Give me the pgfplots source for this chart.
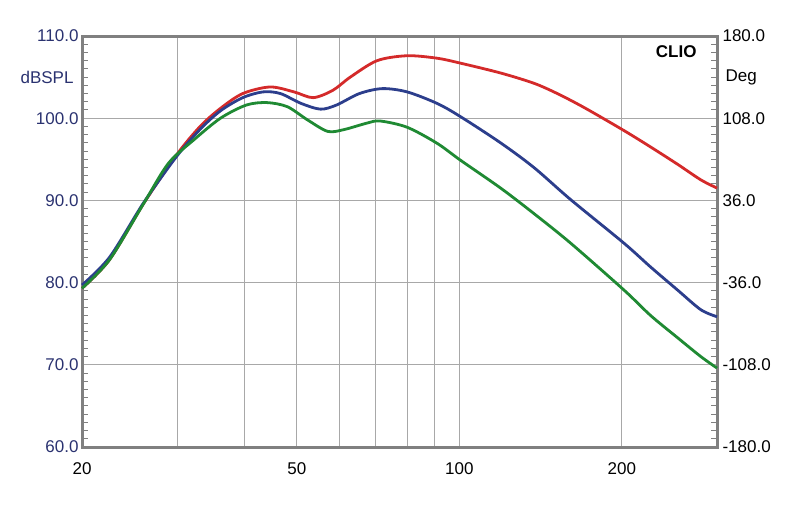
\documentclass[border=0pt]{standalone}
\usepackage{pgfplots}
\pgfplotsset{compat=1.18}
\usepackage{fontspec}
\setmainfont{Liberation Sans}
\definecolor{navy}{HTML}{2A3270}
\definecolor{cred}{HTML}{D42A2A}
\definecolor{cblue}{HTML}{2C3E8C}
\definecolor{cgreen}{HTML}{1F8A33}
\definecolor{gridc}{HTML}{A8A8A8}
\definecolor{framec}{HTML}{808080}

\begin{document}
\begin{tikzpicture}
\begin{axis}[name=ax,
  scale only axis, width=635pt, height=411pt,
  xmode=log, xmin=20, xmax=300, ymin=60, ymax=110,
  log basis x=10,
  xtick={20,50,100,200}, xticklabels={20,50,100,200},
  minor xtick={30,40,60,70,80,90,300},
  ytick={60,70,80,90,100,110},
  yticklabels={60.0,70.0,80.0,90.0,100.0,110.0},
  minor y tick num=9,
  ytick pos=both, xtick pos=bottom,
  tick align=inside,
  major tick length=0pt, minor tick length=6pt,
  minor y tick style={draw=framec, line width=1pt},
  minor x tick style={draw=none},
  grid=both,
  major grid style={gridc, line width=1pt},
  minor grid style={gridc, line width=1pt},
  minor y grid style={draw=none},
  axis line style={framec, line width=3pt},
  tick label style={font=\fontsize{17}{19}\selectfont},
  yticklabel style={text=navy},
  xticklabel style={yshift=-12pt},
  clip=false,
]
\addplot[cred, line width=2.8pt, smooth] coordinates {
(20,79.3) (22.5,82.8) (26,89.6) (29.9,95.5) (33.1,99.0) (36.1,101.2) (39.7,103.0)
(44.6,103.8) (49.4,103.2) (53.6,102.5) (58.3,103.4) (62.8,105.0) (70.4,107.0)
(80,107.6) (90.9,107.3) (100.4,106.7) (119.2,105.5) (137.4,104.25) (151.8,103.0)
(170.2,101.3) (201.7,98.5) (226,96.5) (253.5,94.4) (280,92.5) (300,91.5)
};
\addplot[cblue, line width=2.8pt, smooth] coordinates {
(20,79.7) (22.5,83.1) (26,89.7) (29.9,95.3) (33.1,98.65) (36.1,100.9) (39.7,102.5)
(43.3,103.2) (46.6,103.0) (50.9,101.8) (55.3,101.1) (59.2,101.6) (65.3,103.0)
(72,103.6) (80,103.2) (90.9,101.8) (100.4,100.2) (119.2,97.0) (137.4,94.0)
(160.7,90.1) (201.7,84.8) (226,81.9) (253.5,79.1) (280,76.7) (300,75.85)
};
\addplot[cgreen, line width=2.8pt, smooth] coordinates {
(20,79.3) (22.5,82.8) (26,89.6) (28.9,94.5) (32.2,97.35) (36.1,100.0) (40.3,101.6)
(44,101.9) (48,101.4) (52.3,99.8) (57,98.4) (61,98.6) (67.4,99.4) (71.3,99.66)
(80,98.9) (90.9,96.95) (100.4,94.9) (119.2,91.5) (137.4,88.4) (160.7,84.8)
(201.7,79.1) (226,76.0) (253.5,73.3) (280,71.0) (300,69.6)
};
\node[anchor=east, text=navy, font=\fontsize{17}{19}\selectfont, xshift=-5pt]
  at (axis cs:20,105) {dBSPL};
\node[anchor=west, font=\fontsize{17}{19}\selectfont, xshift=5pt]
  at (axis cs:300,105) {Deg};
\node[anchor=east, font=\bfseries\fontsize{17}{19}\selectfont, xshift=-17pt, yshift=-16pt]
  at (rel axis cs:1,1) {CLIO};
\end{axis}
\begin{axis}[
  scale only axis, width=635pt, height=411pt,
  ymin=-180, ymax=180, xmin=0, xmax=1,
  hide x axis, axis y line*=right,
  y axis line style={draw=none},
  ytick={-180,-108,-36,36,108,180},
  yticklabels={-180.0,-108.0,-36.0,36.0,108.0,180.0},
  major tick length=0pt,
  tick label style={font=\fontsize{17}{19}\selectfont},
  yticklabel style={xshift=2pt},
]
\end{axis}
\path (ax.south west) ++(-82pt,-57pt) rectangle ++(800pt,504pt);
\end{tikzpicture}
\end{document}
